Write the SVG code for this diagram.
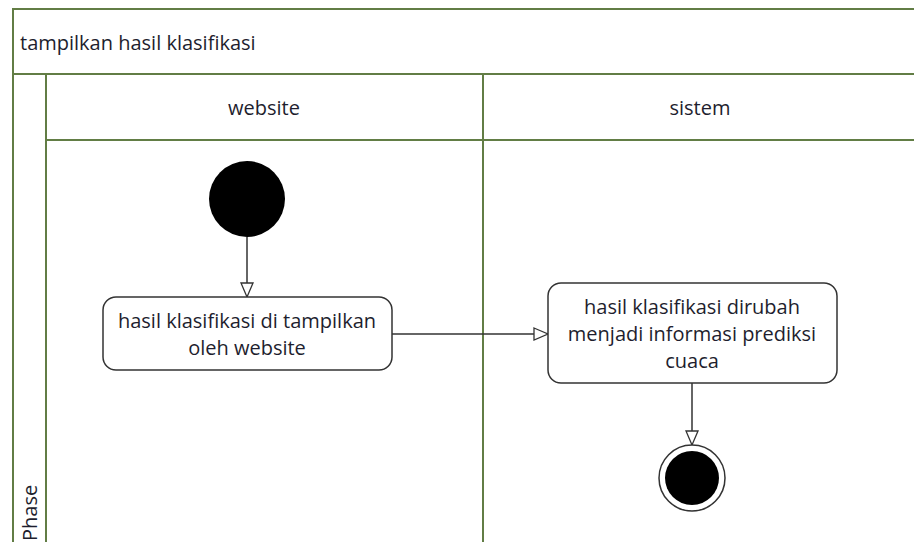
<svg xmlns="http://www.w3.org/2000/svg" width="914" height="542" viewBox="0 0 914 542">
  <style>
    .frame { fill: none; stroke: #627d45; stroke-width: 2; }
    .lbl { font-family: "Open Sans", "Noto Sans", "DejaVu Sans", sans-serif; font-size: 20px; fill: #1e1e2e; }
    .mid { text-anchor: middle; }
    .act { fill: #ffffff; stroke: #333333; stroke-width: 1.5; }
    .edge { fill: none; stroke: #333333; stroke-width: 1.5; }
  </style>
  <defs>
    <marker id="open-tri" markerUnits="userSpaceOnUse" markerWidth="16" markerHeight="14" refX="15" refY="7" orient="auto">
      <path d="M1,1 L15,7 L1,13 Z" fill="#ffffff" stroke="#333333" stroke-width="1.3"/>
    </marker>
  </defs>

  <rect width="914" height="542" fill="#ffffff"/>

  <!-- swimlane frame -->
  <g id="pool">
    <rect class="frame" x="13" y="9" width="920" height="560"/>
    <line class="frame" x1="13" y1="74" x2="914" y2="74"/>
    <line class="frame" x1="46" y1="74" x2="46" y2="542"/>
    <line class="frame" x1="46" y1="140" x2="914" y2="140"/>
    <line class="frame" x1="483" y1="74" x2="483" y2="542"/>
    <text class="lbl" x="20" y="50">tampilkan hasil klasifikasi</text>
    <text class="lbl mid" x="264" y="115">website</text>
    <text class="lbl mid" x="700" y="115">sistem</text>
    <text class="lbl" transform="translate(37,541) rotate(-90)">Phase</text>
  </g>

  <g id="connectors">
    <line class="edge" x1="247" y1="237" x2="247" y2="297" marker-end="url(#open-tri)"/>
    <line class="edge" x1="392" y1="334" x2="548" y2="334" marker-end="url(#open-tri)"/>
    <line class="edge" x1="692" y1="383" x2="692" y2="445" marker-end="url(#open-tri)"/>
  </g>

  <g id="start">
    <circle cx="247" cy="199" r="38" fill="#000000"/>
  </g>

  <g id="show-result">
    <rect class="act" x="103" y="297" width="289" height="73" rx="13"/>
    <text class="lbl mid" x="247" y="328">hasil klasifikasi di tampilkan</text>
    <text class="lbl mid" x="247" y="355">oleh website</text>
  </g>

  <g id="convert-result">
    <rect class="act" x="548" y="283" width="289" height="100" rx="13"/>
    <text class="lbl mid" x="692" y="314">hasil klasifikasi dirubah</text>
    <text class="lbl mid" x="692" y="341">menjadi informasi prediksi</text>
    <text class="lbl mid" x="692" y="368">cuaca</text>
  </g>

  <g id="end">
    <circle cx="692" cy="478" r="33" fill="#ffffff" stroke="#333333" stroke-width="1.5"/>
    <circle cx="692" cy="478" r="27" fill="#000000"/>
  </g>
</svg>
